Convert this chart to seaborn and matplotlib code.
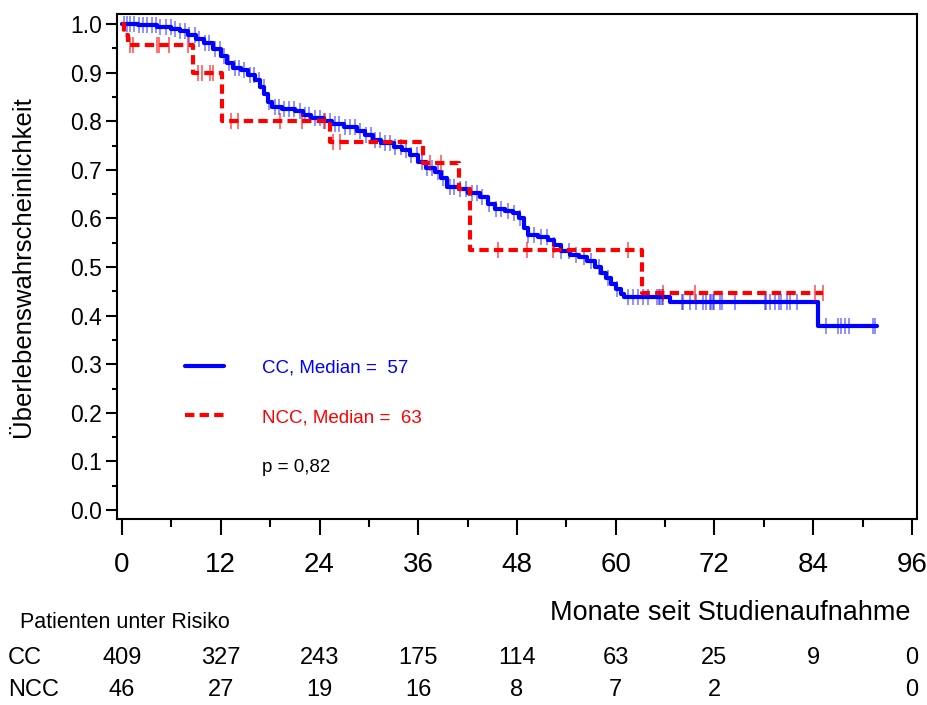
import numpy as np
import pandas as pd
import matplotlib
matplotlib.use("Agg")
import matplotlib.pyplot as plt
import seaborn as sns
from matplotlib.lines import Line2D
from matplotlib.transforms import blended_transform_factory

# ---------------- data ----------------
cc_time = [0, 2.0, 4.2, 6.0, 7.0, 8.0, 9.0, 10.0, 11.0, 12.0, 12.8, 13.5, 14.5, 15.3, 16.2,
           16.8, 17.3, 17.7, 18.2, 19.5, 21.0, 22.0, 23.0, 24.5, 25.5, 27.0, 28.5, 29.5, 30.5, 31.5,
           33.0, 34.0, 35.0, 36.0, 37.0, 38.0, 38.8, 39.5, 41.0, 42.0, 43.5, 44.5, 45.3, 46.5, 47.5,
           48.2, 48.8, 49.3, 50.5, 51.8, 52.5, 53.3, 54.5, 55.5, 56.5, 57.5, 58.2, 58.8, 59.4, 60.0,
           60.6, 61.0, 66.6, 84.6, 91.7]
cc_surv = [1.0, 0.997, 0.994, 0.99, 0.985, 0.978, 0.97, 0.96, 0.948, 0.935, 0.92, 0.91, 0.905, 0.895, 0.885,
           0.87, 0.855, 0.84, 0.83, 0.826, 0.82, 0.812, 0.806, 0.80, 0.795, 0.788, 0.78, 0.772, 0.762, 0.755,
           0.747, 0.74, 0.73, 0.716, 0.703, 0.695, 0.683, 0.665, 0.66, 0.652, 0.645, 0.63, 0.62, 0.615, 0.612,
           0.60, 0.58, 0.566, 0.562, 0.556, 0.545, 0.533, 0.525, 0.52, 0.513, 0.50, 0.488, 0.478, 0.466, 0.455,
           0.445, 0.438, 0.428, 0.379, 0.379]
cc_censor = [0.3, 0.6, 1.0, 1.5, 2.1, 2.6, 3.0, 3.6, 4.1, 4.6, 5.3, 5.9, 6.4, 7.1, 7.6, 8.2, 8.9, 9.4,
             10.1, 10.6, 11.3, 11.9, 12.4, 13.0, 13.7, 14.2, 14.8, 15.5, 16.0, 16.7, 17.2, 17.9, 18.6,
             19.1, 19.7, 20.3, 20.9, 21.6, 22.2, 22.7, 23.4, 24.0, 24.6, 25.3, 25.9, 26.4, 27.1, 27.7,
             28.3, 28.9, 29.6, 30.2, 30.8, 31.3, 32.0, 32.6, 33.2, 33.9, 34.5, 35.1, 35.8, 36.4, 37.1,
             37.7, 38.4, 39.0, 39.8, 40.4, 41.1, 41.8, 42.5, 43.1, 43.8, 44.6, 45.4, 46.1, 46.9, 47.6,
             48.4, 49.3, 50.1, 50.9, 51.7, 52.5, 53.4, 54.3, 55.2, 56.1, 57.0, 58.0, 59.1, 60.2,
             61.5, 62.1, 62.7, 63.3, 63.9, 65.0, 65.2, 65.4, 65.6, 65.8, 68.0, 68.2, 69.0, 69.8, 70.6,
             71.0, 71.4, 71.6, 71.8, 72.0, 72.7, 72.9, 74.5, 78.1, 78.3, 78.7, 79.3, 79.9, 80.1, 80.8,
             81.2, 82.0, 85.6, 87.0, 87.4, 87.8, 88.3, 91.3, 91.5]

ncc_time = [0, 0.3, 0.7, 8.6, 12.2, 25.3, 36.6, 41.0, 42.3, 63.2, 85.2]
ncc_surv = [1.0, 0.978, 0.957, 0.90, 0.80, 0.757, 0.714, 0.66, 0.535, 0.446, 0.446]
ncc_censor = [1.0, 1.3, 4.2, 4.5, 5.7, 8.0, 9.2, 9.7, 10.7, 11.1, 13.2, 14.1, 19.2, 21.9, 24.7,
              25.6, 26.5, 37.4, 38.8, 45.7, 49.2, 52.4, 61.5, 65.8, 69.6, 84.2, 85.2]

x_ticks = [0, 12, 24, 36, 48, 60, 72, 84, 96]
y_ticks = [0.0, 0.1, 0.2, 0.3, 0.4, 0.5, 0.6, 0.7, 0.8, 0.9, 1.0]
risk_times = [0, 12, 24, 36, 48, 60, 72, 84, 96]
cc_at_risk = ["409", "327", "243", "175", "114", "63", "25", "9", "0"]
ncc_at_risk = ["46", "27", "19", "16", "8", "7", "2", "", "0"]

cc_label = "CC, Median =  57"
ncc_label = "NCC, Median =  63"
p_label = "p = 0,82"
BLUE = "#0000FF"
RED = "#FF0000"

# ---------------- style ----------------
sns.set_theme(style="ticks")
plt.rcParams['font.family'] = ['Liberation Sans', 'DejaVu Sans']
plt.rcParams['text.color'] = 'black'

W, H = 927, 705
fig = plt.figure(figsize=(W / 100, H / 100), dpi=100)
ax = fig.add_axes([117 / W, 1 - 519 / H, 800 / W, 505 / H])


def step_value(times, surv, t):
    idx = np.searchsorted(np.asarray(times), np.asarray(t), side='right') - 1
    return np.asarray(surv)[idx]


df_cc = pd.DataFrame({'t': cc_time, 's': cc_surv})
df_ncc = pd.DataFrame({'t': ncc_time, 's': ncc_surv})

sns.lineplot(data=df_cc, x='t', y='s', drawstyle='steps-post', color=BLUE, linewidth=3.0,
             estimator=None, ax=ax, label=cc_label, zorder=3)
cc_line = ax.get_lines()[-1]
sns.lineplot(data=df_ncc, x='t', y='s', drawstyle='steps-post', color=RED, linewidth=3.0,
             estimator=None, ax=ax, label=ncc_label, zorder=4)
ncc_line = ax.get_lines()[-1]
ncc_line.set_dashes((2.25, 1.25))

ax.plot(cc_censor, step_value(cc_time, cc_surv, cc_censor), ls='none', marker='|',
        ms=12, mew=1.1, color=BLUE, alpha=0.55, zorder=3.5)
ax.plot(ncc_censor, step_value(ncc_time, ncc_surv, ncc_censor), ls='none', marker='|',
        ms=12, mew=1.3, color=RED, alpha=0.6, zorder=4.5)

# ---------------- axes ----------------
ax.set_xlim(-0.61, 96.61)
ax.set_ylim(-0.0185, 1.0206)
ax.set_xticks(x_ticks)
ax.set_xticks(np.array(x_ticks[:-1]) + 6, minor=True)
ax.set_yticks(y_ticks)
ax.set_yticks(np.array(y_ticks[:-1]) + 0.05, minor=True)
ax.set_yticklabels([f"{v:.1f}" for v in y_ticks])
ax.tick_params(axis='x', which='major', length=11.5, width=1.5, labelsize=20, pad=12, colors='black')
ax.tick_params(axis='x', which='minor', length=5.8, width=1.5, colors='black')
ax.tick_params(axis='y', which='major', length=8, width=1.5, labelsize=16.5, pad=3, colors='black')
ax.tick_params(axis='y', which='minor', length=3.6, width=1.5, colors='black')
for sp in ax.spines.values():
    sp.set_visible(True)
    sp.set_linewidth(1.5)
    sp.set_color('black')

ax.set_ylabel("Überlebenswahrscheinlichkeit", fontsize=18.5, color='black')
ax.yaxis.set_label_coords(-0.103, 0.5)
ax.set_xlabel("Monate seit Studienaufnahme", fontsize=19.5, color='black')
ax.xaxis.label.set_ha('right')
ax.xaxis.label.set_va('center')
ax.xaxis.set_label_coords((910 - 117) / 800, (519 - 613) / 505)

# ---------------- legend ----------------
p_handle = Line2D([], [], ls='none')
ax.legend([cc_line, ncc_line, p_handle], [cc_label, ncc_label, p_label],
          loc='upper left', bbox_to_anchor=(185 / W, 1 - 359 / H), bbox_transform=fig.transFigure,
          frameon=False, fontsize=13.5, handlelength=2.1, handletextpad=2.0, labelspacing=1.75,
          borderpad=0, borderaxespad=0, labelcolor=[BLUE, RED, 'black'])

# ---------------- number at risk table ----------------
tr = blended_transform_factory(ax.transData, fig.transFigure)
fig.text(20 / W, 1 - 622 / H, "Patienten unter Risiko", fontsize=15.5, ha='left', va='center', color='black')
fig.text(8 / W, 1 - 658 / H, "CC", fontsize=17, ha='left', va='center', color='black')
fig.text(8 / W, 1 - 690 / H, "NCC", fontsize=17, ha='left', va='center', color='black')
for t, a, b in zip(risk_times, cc_at_risk, ncc_at_risk):
    ax.text(t, 1 - 658 / H, a, transform=tr, fontsize=17, ha='center', va='center',
            clip_on=False, color='black')
    ax.text(t, 1 - 690 / H, b, transform=tr, fontsize=17, ha='center', va='center',
            clip_on=False, color='black')

fig.savefig("out.png", dpi=100)
